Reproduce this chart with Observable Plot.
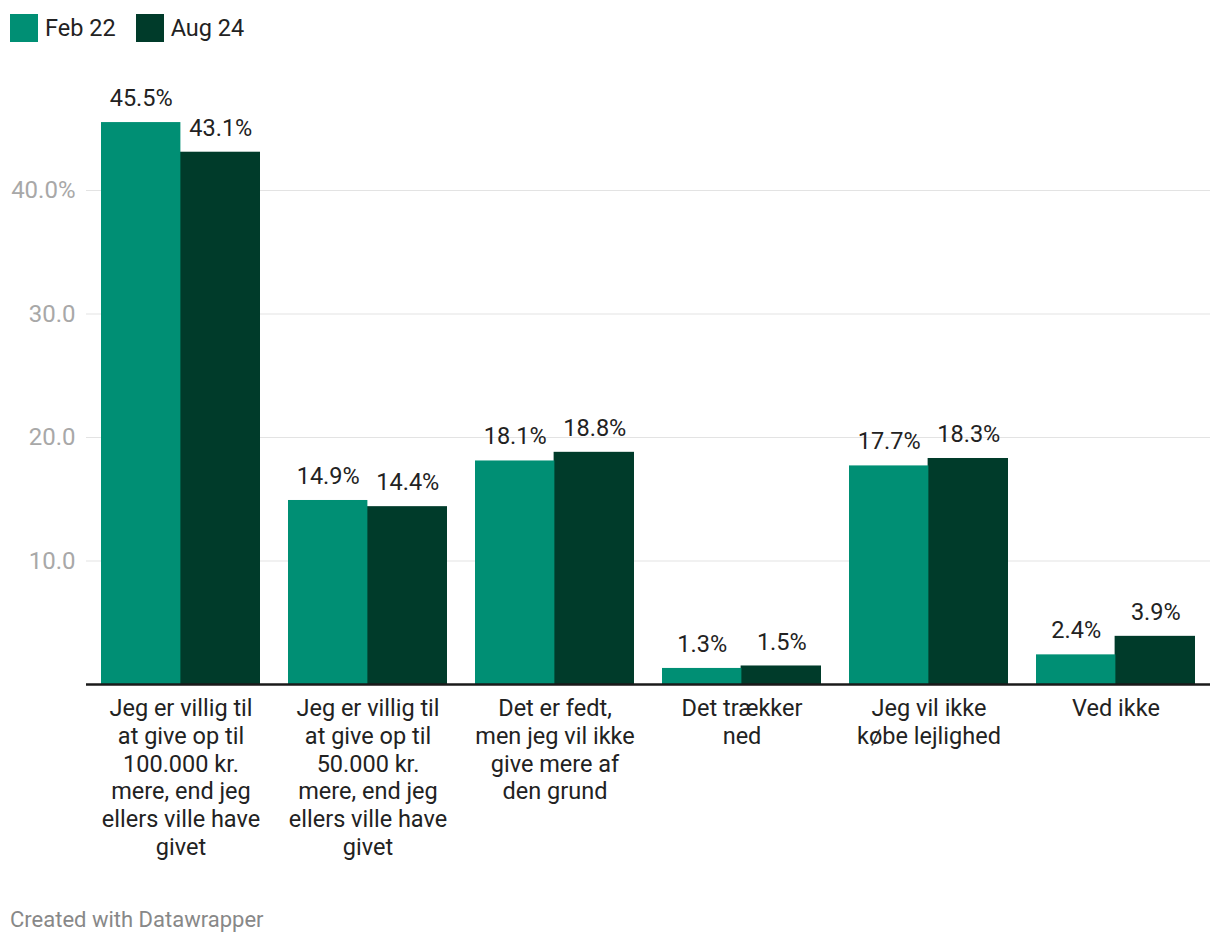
<!DOCTYPE html>
<html>
<head>
<meta charset="utf-8">
<script src="https://cdn.jsdelivr.net/npm/d3@7"></script>
<script src="https://cdn.jsdelivr.net/npm/@observablehq/plot@0.6"></script>
<style>
  html, body { margin: 0; padding: 0; background: #fff; font-family: Roboto, sans-serif; }
  #wrap { position: relative; width: 1220px; height: 944px; }
  #legend { box-sizing: border-box; display: flex; align-items: center; height: 56px; padding: 0 0 0 10px; font-size: 23.5px; color: #222; overflow: hidden; }
  .item { display: flex; align-items: center; margin-right: 20px; }
  .sw { width: 28px; height: 28px; margin-right: 7px; }
  #caption { position: absolute; left: 10px; top: 906px; font-size: 22px; color: #888; line-height: 28px; }
  svg { display: block; }
</style>
</head>
<body>
<div id="wrap">
  <div id="legend"></div>
  <div id="chart"></div>
  <div id="caption">Created with Datawrapper</div>
</div>
<script>
const categories = [
  "Jeg er villig til\nat give op til\n100.000 kr.\nmere, end jeg\nellers ville have\ngivet",
  "Jeg er villig til\nat give op til\n50.000 kr.\nmere, end jeg\nellers ville have\ngivet",
  "Det er fedt,\nmen jeg vil ikke\ngive mere af\nden grund",
  "Det trækker\nned",
  "Jeg vil ikke\nkøbe lejlighed",
  "Ved ikke"
];
const series = ["Feb 22", "Aug 24"];
const feb22 = [45.5, 14.9, 18.1, 1.3, 17.7, 2.4];
const aug24 = [43.1, 14.4, 18.8, 1.5, 18.3, 3.9];
const yTicks = [10, 20, 30, 40];
const colors = ["#008f74", "#003b2a"];

const febData = categories.map((c, i) => ({category: c, series: "Feb 22", value: feb22[i]}));
const augData = categories.map((c, i) => ({category: c, series: "Aug 24", value: aug24[i]}));

// legend
const legend = document.getElementById("legend");
series.forEach((s, i) => {
  const it = document.createElement("div");
  it.className = "item";
  it.innerHTML = `<div class="sw" style="background:${colors[i]}"></div><span>${s}</span>`;
  legend.appendChild(it);
});

const W = 1220, ML = 86, MR = 10;
const step = (W - ML - MR) / 6;
const half = step * 0.85 / 2;

const chart = Plot.plot({
  width: W,
  height: 828,
  marginLeft: ML,
  marginRight: MR,
  marginTop: 10.5,
  marginBottom: 200,
  style: {fontFamily: "Roboto, sans-serif", fontSize: "24px", background: "white", color: "#222"},
  x: {domain: categories, paddingInner: 0.15, paddingOuter: 0.075, label: null},
  y: {domain: [0, 50], label: null},
  color: {domain: series, range: colors},
  marks: [
    Plot.gridY(yTicks, {stroke: "#e3e3e3", strokeOpacity: 1, strokeWidth: 1}),
    Plot.axisY(yTicks, {
      tickSize: 0, tickPadding: 11, fontSize: 24, color: "#a8a8a8", label: null,
      tickFormat: d => d === 40 ? "40.0%" : d.toFixed(1)
    }),
    Plot.barY(augData, {x: "category", y: "value", fill: "series", insetLeft: half - 1}),
    Plot.barY(febData, {x: "category", y: "value", fill: "series", insetRight: half}),
    Plot.ruleY([0], {stroke: "#1a1a1a", strokeWidth: 2.5}),
    Plot.text(febData, {x: "category", y: "value", text: d => d.value.toFixed(1) + "%", dx: -half / 2, dy: -24, fill: "#222", fontSize: 23.5}),
    Plot.text(augData, {x: "category", y: "value", text: d => d.value.toFixed(1) + "%", dx: half / 2, dy: -24, fill: "#222", fontSize: 23.5}),
    Plot.axisX({tickSize: 0, tickPadding: 12, fontSize: 23.5, lineHeight: 1.18, color: "#222", label: null, tickFormat: d => d})
  ]
});
document.getElementById("chart").appendChild(chart);
</script>
</body>
</html>
